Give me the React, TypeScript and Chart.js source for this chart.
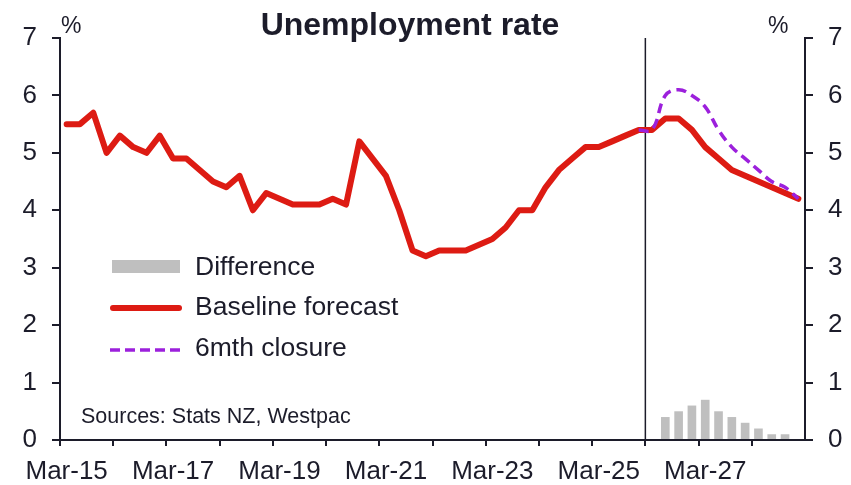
import React, { useEffect, useRef } from "react";
import { Chart, registerables } from "chart.js";

Chart.register(...registerables);

// ---- Data ----
const months = ["Mar", "Jun", "Sep", "Dec"];
const years = ["15", "16", "17", "18", "19", "20", "21", "22", "23", "24", "25", "26", "27", "28"];
const labels: string[] = [];
years.forEach((y) => months.forEach((m) => labels.push(`${m}-${y}`)));

const baseline = [
  5.5, 5.5, 5.7, 5.0, 5.3, 5.1, 5.0, 5.3, 4.9, 4.9,
  4.7, 4.5, 4.4, 4.6, 4.0, 4.3, 4.2, 4.1, 4.1, 4.1,
  4.2, 4.1, 5.2, 4.9, 4.6, 4.0, 3.3, 3.2, 3.3, 3.3,
  3.3, 3.4, 3.5, 3.7, 4.0, 4.0, 4.4, 4.7, 4.9, 5.1,
  5.1, 5.2, 5.3, 5.4, 5.4, 5.6, 5.6, 5.4, 5.1, 4.9,
  4.7, 4.6, 4.5, 4.4, 4.3, 4.2,
];

const closureStart = "Dec-25";
const closureValues = [5.4, 5.4, 6.0, 6.1, 6.0, 5.8, 5.4, 5.1, 4.9, 4.7, 4.5, 4.4, 4.2];

const diffStart = "Jun-26";
const diffValues = [0.4, 0.5, 0.6, 0.7, 0.5, 0.4, 0.3, 0.2, 0.1, 0.1];

const forecastFrom = "Mar-26";
const xLabelYears = ["Mar-15", "Mar-17", "Mar-19", "Mar-21", "Mar-23", "Mar-25", "Mar-27"];
const yTicks = [0, 1, 2, 3, 4, 5, 6, 7];

const titleText = "Unemployment rate";
const sourceText = "Sources: Stats NZ, Westpac";
const legendItems = ["Difference", "Baseline forecast", "6mth closure"];

// ---- Styles ----
const FONT = '"Liberation Sans", Arial, sans-serif';
const INK = "#1c1c2a";
const RED = "#dd1b13";
const PURPLE = "#9c20dc";
const GREY = "#bfbfbf";

const seriesFrom = (start: string, vals: number[]) => {
  const s = labels.indexOf(start);
  return labels.map((_, i) => (i >= s && i - s < vals.length ? vals[i - s] : null));
};

const overlayPlugin = {
  id: "overlay",
  beforeDatasetsDraw(chart: any) {
    const { ctx, chartArea } = chart;
    const xs = chart.scales.x;
    const i = labels.indexOf(forecastFrom);
    const x = (xs.getPixelForValue(i - 1) + xs.getPixelForValue(i)) / 2;
    ctx.save();
    ctx.strokeStyle = INK;
    ctx.lineWidth = 1.5;
    ctx.beginPath();
    ctx.moveTo(x, chartArea.top);
    ctx.lineTo(x, chartArea.bottom);
    ctx.stroke();
    ctx.restore();
  },
  afterDraw(chart: any) {
    const { ctx } = chart;
    ctx.save();
    ctx.fillStyle = INK;
    ctx.textBaseline = "alphabetic";
    // Title
    ctx.font = `bold 32px ${FONT}`;
    ctx.textAlign = "center";
    ctx.fillText(titleText, 410, 35);
    // % labels
    ctx.font = `23px ${FONT}`;
    ctx.textAlign = "left";
    ctx.fillText("%", 61, 33);
    ctx.fillText("%", 768, 33);
    // Sources
    ctx.font = `21.5px ${FONT}`;
    ctx.fillText(sourceText, 81, 423);
    // Legend
    ctx.font = `26.5px ${FONT}`;
    ctx.textBaseline = "middle";
    ctx.fillStyle = GREY;
    ctx.fillRect(112, 260, 68, 13);
    ctx.fillStyle = INK;
    ctx.fillText(legendItems[0], 195, 268);

    ctx.strokeStyle = RED;
    ctx.lineWidth = 6;
    ctx.lineCap = "round";
    ctx.beginPath();
    ctx.moveTo(113, 308);
    ctx.lineTo(179, 308);
    ctx.stroke();
    ctx.fillText(legendItems[1], 195, 308);

    ctx.strokeStyle = PURPLE;
    ctx.lineWidth = 3.5;
    ctx.lineCap = "butt";
    ctx.setLineDash([10, 5]);
    ctx.beginPath();
    ctx.moveTo(110, 350);
    ctx.lineTo(182, 350);
    ctx.stroke();
    ctx.setLineDash([]);
    ctx.fillText(legendItems[2], 195, 349);
    ctx.restore();
  },
};

export default function App() {
  const ref = useRef<HTMLCanvasElement | null>(null);

  useEffect(() => {
    if (!ref.current) return;
    const tickFont = { family: FONT, size: 26 };
    const chart = new Chart(ref.current, {
      type: "bar",
      data: {
        labels,
        datasets: [
          {
            type: "line",
            label: legendItems[2],
            data: seriesFrom(closureStart, closureValues),
            borderColor: PURPLE,
            borderWidth: 3.5,
            borderDash: [10, 6],
            tension: 0.4,
            pointRadius: 0,
            fill: false,
            spanGaps: false,
            order: 0,
          } as any,
          {
            type: "line",
            label: legendItems[1],
            data: baseline,
            borderColor: RED,
            borderWidth: 6,
            tension: 0,
            borderJoinStyle: "round",
            borderCapStyle: "round",
            pointRadius: 0,
            fill: false,
            order: 1,
          } as any,
          {
            type: "bar",
            label: legendItems[0],
            data: seriesFrom(diffStart, diffValues),
            backgroundColor: GREY,
            barPercentage: 0.65,
            categoryPercentage: 1,
            order: 2,
          } as any,
        ],
      },
      options: {
        responsive: false,
        animation: false,
        devicePixelRatio: 1,
        layout: { padding: { top: 38, left: 0, right: 0, bottom: 0 } },
        plugins: { legend: { display: false }, tooltip: { enabled: false }, title: { display: false } },
        scales: {
          x: {
            type: "category",
            offset: true,
            grid: {
              offset: true,
              drawOnChartArea: false,
              drawTicks: true,
              tickLength: 6,
              lineWidth: 2,
              color: (c: any) => (c.index % 4 === 0 ? INK : "rgba(0,0,0,0)"),
            },
            border: { display: true, color: INK, width: 2 },
            ticks: {
              autoSkip: false,
              maxRotation: 0,
              minRotation: 0,
              padding: 10,
              color: INK,
              font: tickFont,
              callback: (_v: any, i: number) => (xLabelYears.includes(labels[i]) ? labels[i] : ""),
            },
            afterFit: (s: any) => {
              s.height = 45;
            },
          },
          y: {
            position: "left",
            min: yTicks[0],
            max: yTicks[yTicks.length - 1],
            grid: { drawOnChartArea: false, drawTicks: true, tickLength: 8, lineWidth: 2, color: INK },
            border: { display: true, color: INK, width: 2 },
            ticks: { stepSize: 1, padding: 15, color: INK, font: tickFont },
            afterFit: (s: any) => {
              s.width = 60;
            },
          },
          y2: {
            position: "right",
            min: yTicks[0],
            max: yTicks[yTicks.length - 1],
            grid: { drawOnChartArea: false, drawTicks: true, tickLength: 8, lineWidth: 2, color: INK },
            border: { display: true, color: INK, width: 2 },
            ticks: { stepSize: 1, padding: 15, color: INK, font: tickFont },
            afterFit: (s: any) => {
              s.width = 46;
            },
          },
        },
      } as any,
      plugins: [overlayPlugin],
    });
    return () => chart.destroy();
  }, []);

  return (
    <div style={{ position: "fixed", left: 0, top: 0, width: 851, height: 485, background: "#fff" }}>
      <canvas ref={ref} width={851} height={485} style={{ display: "block" }} />
    </div>
  );
}
